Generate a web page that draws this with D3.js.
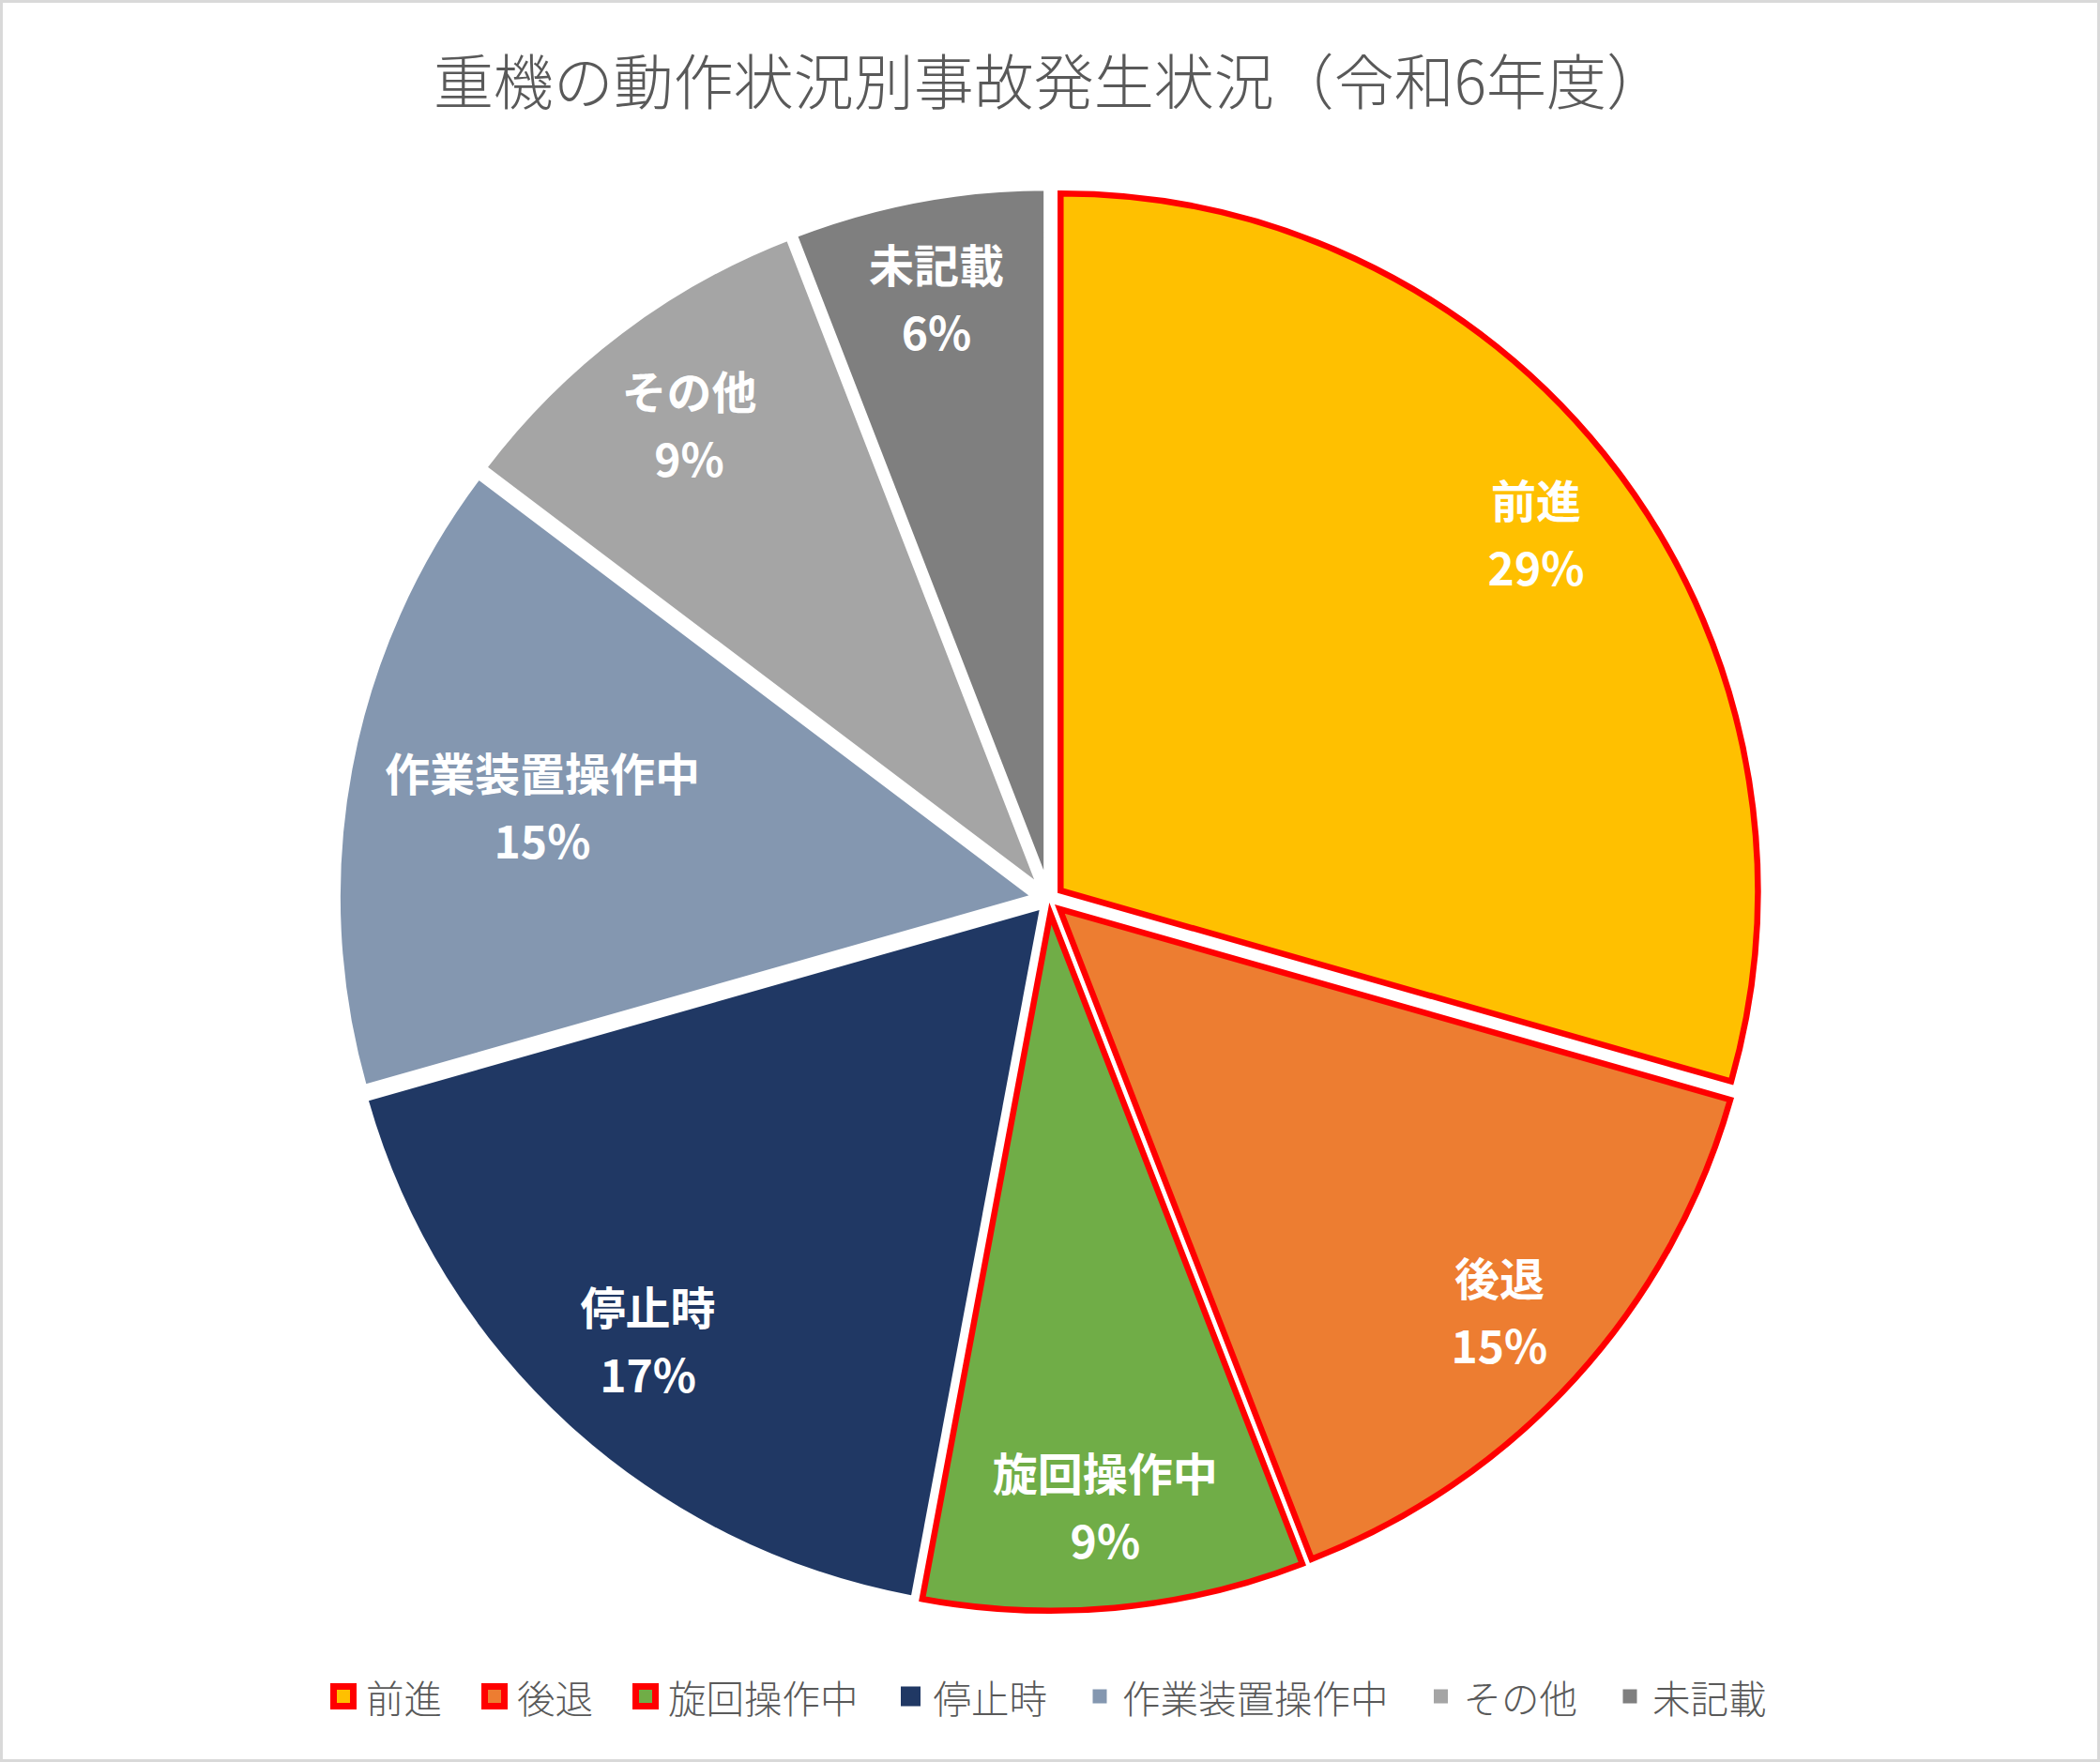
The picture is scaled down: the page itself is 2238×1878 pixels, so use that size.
<!DOCTYPE html>
<html>
<head>
<meta charset="utf-8">
<script src="https://cdn.jsdelivr.net/npm/d3@7"></script>
<style>
  html, body { margin: 0; padding: 0; background: #fff; }
  svg { display: block; }
</style>
</head>
<body>
<svg id="chart"></svg>
<script>
var categories = ["前進", "後退", "旋回操作中", "停止時", "作業装置操作中", "その他", "未記載"];
var counts = [10, 5, 3, 6, 5, 3, 2];
var pctLabels = ["29%", "15%", "9%", "17%", "15%", "9%", "6%"];
var colors = ["#FFC000", "#ED7D31", "#70AD47", "#203864", "#8497B0", "#A5A5A5", "#7F7F7F"];
var borders = ["#FF0000", "#FF0000", "#FF0000", null, "#FFFFFF", "#FFFFFF", "#FFFFFF"];
var titleText = "重機の動作状況別事故発生状況（令和6年度）";

var width = 2238, height = 1878;
var cx = 1118, cy = 958.5, radius = 743, explode = 15.4;
var font = "'Noto Sans CJK JP', 'Noto Sans', sans-serif";

var svg = d3.select("#chart")
  .attr("width", width)
  .attr("height", height);

svg.append("rect")
  .attr("x", 1.5).attr("y", 1.5)
  .attr("width", width - 3).attr("height", height - 3)
  .attr("fill", "#fff")
  .attr("stroke", "#D9D9D9")
  .attr("stroke-width", 3);

svg.append("text")
  .attr("x", width / 2)
  .attr("y", 83)
  .attr("text-anchor", "middle")
  .attr("dominant-baseline", "central")
  .attr("font-family", font)
  .attr("font-weight", 300)
  .attr("font-size", 64)
  .attr("fill", "#595959")
  .text(titleText);

var pie = d3.pie().sort(null).value(function(d) { return d; });
var arcs = pie(counts);
var arc = d3.arc().innerRadius(0).outerRadius(radius);

function offset(d, r) {
  var a = (d.startAngle + d.endAngle) / 2;
  return [Math.sin(a) * r, -Math.cos(a) * r];
}

var g = svg.append("g").attr("transform", "translate(" + cx + "," + cy + ")");

var slices = g.selectAll("g.slice")
  .data(arcs)
  .enter().append("g")
  .attr("class", "slice")
  .attr("transform", function(d) {
    var o = offset(d, explode);
    return "translate(" + o[0] + "," + o[1] + ")";
  });

slices.append("path")
  .attr("d", arc)
  .attr("fill", function(d, i) { return colors[i]; })
  .attr("stroke", function(d, i) { return borders[i] || "none"; })
  .attr("stroke-width", function(d, i) { return borders[i] == "#FF0000" ? 6.5 : 6; })
  .attr("stroke-linejoin", "miter");

// data labels: pushed out along the mid angle until the far corner of the
// text block reaches the fit circle
var labelSize = 48, lineGap = 72, fitRadius = radius * 0.957;
slices.each(function(d, i) {
  var lab = d3.select(this).append("g")
    .attr("font-family", font)
    .attr("font-weight", "bold")
    .attr("font-size", labelSize)
    .attr("fill", "#fff")
    .attr("text-anchor", "middle");
  lab.append("text")
    .attr("y", -lineGap / 2)
    .attr("dominant-baseline", "central")
    .text(categories[i]);
  lab.append("text")
    .attr("y", lineGap / 2)
    .attr("dominant-baseline", "central")
    .text(pctLabels[i]);

  var hw = lab.node().getBBox().width / 2;
  var hh = lineGap / 2 + labelSize * 0.45;
  function farthest(r) {
    var o = offset(d, r);
    return Math.max(
      Math.hypot(o[0] - hw, o[1] - hh), Math.hypot(o[0] + hw, o[1] - hh),
      Math.hypot(o[0] - hw, o[1] + hh), Math.hypot(o[0] + hw, o[1] + hh));
  }
  var r = 0;
  while (r < radius && farthest(r + 1) <= fitRadius) r += 1;
  var p = offset(d, r);
  lab.attr("transform", "translate(" + p[0] + "," + p[1] + ")");
});

// legend
var legendY = 1808, markerSize = 21, textGap = 24, itemGap = 56;
var legend = svg.append("g")
  .attr("font-family", font)
  .attr("font-weight", 300)
  .attr("font-size", 40.5)
  .attr("fill", "#595959");

var items = legend.selectAll("g.item")
  .data(categories)
  .enter().append("g")
  .attr("class", "item");

items.append("rect")
  .attr("x", -markerSize / 2)
  .attr("y", legendY - markerSize / 2)
  .attr("width", markerSize)
  .attr("height", markerSize)
  .attr("fill", function(d, i) { return colors[i]; })
  .attr("stroke", function(d, i) { return borders[i] || "none"; })
  .attr("stroke-width", function(d, i) { return borders[i] == "#FF0000" ? 7 : 6; });

items.append("text")
  .attr("x", textGap)
  .attr("y", legendY)
  .attr("dominant-baseline", "central")
  .text(function(d) { return d; });

var widths = [];
items.selectAll("text").each(function() { widths.push(this.getComputedTextLength()); });
var total = 0;
for (var i = 0; i < widths.length; i++) {
  total += textGap + widths[i] + (i < widths.length - 1 ? itemGap : 0);
}
var x0 = width / 2 - (total + markerSize / 2) / 2 + markerSize / 2;
items.attr("transform", function(d, i) {
  var x = x0;
  for (var k = 0; k < i; k++) x += textGap + widths[k] + itemGap;
  return "translate(" + x + ",0)";
});
</script>
</body>
</html>
